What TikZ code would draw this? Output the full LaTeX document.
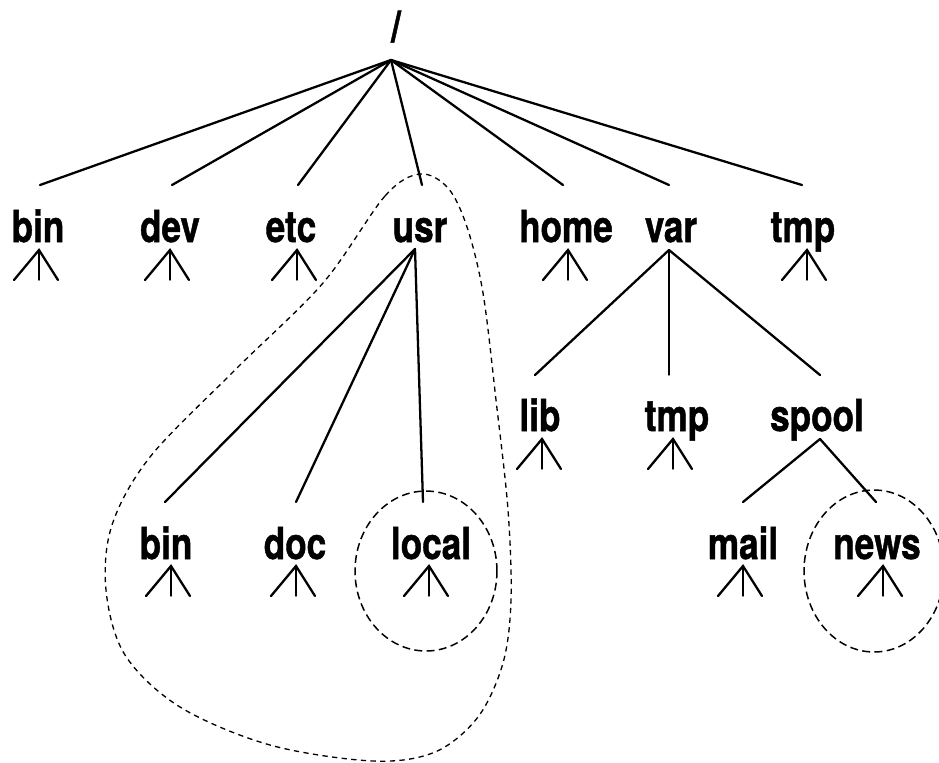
\documentclass[tikz,border=0pt]{standalone}
\usepackage{fontspec}
\setmainfont{TeX Gyre Heros}[BoldFeatures={FakeBold=1.2}]
\usepackage{graphicx}
\newcommand\lbl[1]{\scalebox{0.8}[1]{#1}}
\tikzset{
  lab/.style={font=\fontsize{25}{30}\selectfont\bfseries, anchor=base, inner sep=0pt},
  edge/.style={line width=1.3pt, line cap=round},
  thinedge/.style={line width=0.8pt, line cap=round},
  region/.style={line width=0.75pt, dash pattern=on 3pt off 2.5pt},
  ring/.style={line width=0.85pt, dash pattern=on 4.5pt off 2.5pt},
  stub/.pic={
    \draw[edge] (-25,30) -- (0,0) -- (19,30);
    \draw[thinedge] (0,0) -- (0,30);
  }
}
\begin{document}
\begin{tikzpicture}[x=0.02cm, y=-0.02cm]
\useasboundingbox (0,0) rectangle (939,762);

% labels
\node[lab] (root) at (396,42) {\lbl{/}};
\node[lab] (bin) at (38,242) {\lbl{bin}};
\node[lab] (dev) at (170,242) {\lbl{dev}};
\node[lab] (etc) at (291,242) {\lbl{etc}};
\node[lab] (usr) at (420,242) {\lbl{usr}};
\node[lab] (home) at (566,242) {\lbl{home}};
\node[lab] (var) at (671,242) {\lbl{var}};
\node[lab] (tmp) at (803,242) {\lbl{tmp}};
\node[lab] (lib) at (540,431) {\lbl{lib}};
\node[lab] (vtmp) at (677,431) {\lbl{tmp}};
\node[lab] (spool) at (817,431) {\lbl{spool}};
\node[lab] (ubin) at (166,559) {\lbl{bin}};
\node[lab] (doc) at (295,559) {\lbl{doc}};
\node[lab] (local) at (431,559) {\lbl{local}};
\node[lab] (mail) at (743,559) {\lbl{mail}};
\node[lab] (news) at (877,559) {\lbl{news}};

% connection points
\coordinate (root-b) at (391,60);
\coordinate (bin-t) at (40,185);
\coordinate (dev-t) at (172,185);
\coordinate (etc-t) at (298,185);
\coordinate (usr-t) at (422,185);
\coordinate (home-t) at (563,185);
\coordinate (var-t) at (669,185);
\coordinate (tmp-t) at (802,185);
\coordinate (usr-b) at (415,249);
\coordinate (var-b) at (669,250);
\coordinate (ubin-t) at (165,502);
\coordinate (doc-t) at (296,502);
\coordinate (local-t) at (423,502);
\coordinate (lib-t) at (535,375);
\coordinate (vtmp-t) at (669,375);
\coordinate (spool-t) at (820,375);
\coordinate (spool-b) at (820,439);
\coordinate (mail-t) at (743,502);
\coordinate (news-t) at (876,502);

% root edges
\foreach \c in {bin-t,dev-t,etc-t,usr-t,home-t,var-t,tmp-t}
  \draw[edge] (root-b) -- (\c);
% usr edges
\draw[edge] (usr-b) -- (ubin-t);
\draw[edge] (usr-b) -- (doc-t);
\draw[edge] (usr-b) -- (local-t);
% var edges
\draw[edge] (var-b) -- (lib-t);
\draw[thinedge] (var-b) -- (vtmp-t);
\draw[edge] (var-b) -- (spool-t);
% spool edges
\draw[edge] (spool-b) -- (mail-t);
\draw[edge] (spool-b) -- (news-t);

% subtree stubs
\pic at (39,250) {stub};
\pic at (170,250) {stub};
\pic at (297,250) {stub};
\pic at (568,250) {stub};
\pic at (807,250) {stub};
\pic at (542,439) {stub};
\pic at (673,439) {stub};
\pic at (171,566) {stub};
\pic at (296,566) {stub};
\pic at (429,566) {stub};
\pic at (743,566) {stub};
\pic at (883,566) {stub};

% dashed regions
\draw[region] plot[smooth cycle, tension=0.55] coordinates {
  (420,174) (385,196) (323,283) (235,370) (150,457) (112,525) (106,590)
  (125,655) (180,707) (270,745) (373,761) (435,752) (478,717) (503,663)
  (511,600) (508,510) (496,400) (483,293) (467,227) (448,188)};
\draw[ring] (426,571) ellipse [x radius=1.42cm, y radius=1.6cm];
\draw[ring] (874,571) ellipse [x radius=1.4cm, y radius=1.62cm];
\end{tikzpicture}
\end{document}
